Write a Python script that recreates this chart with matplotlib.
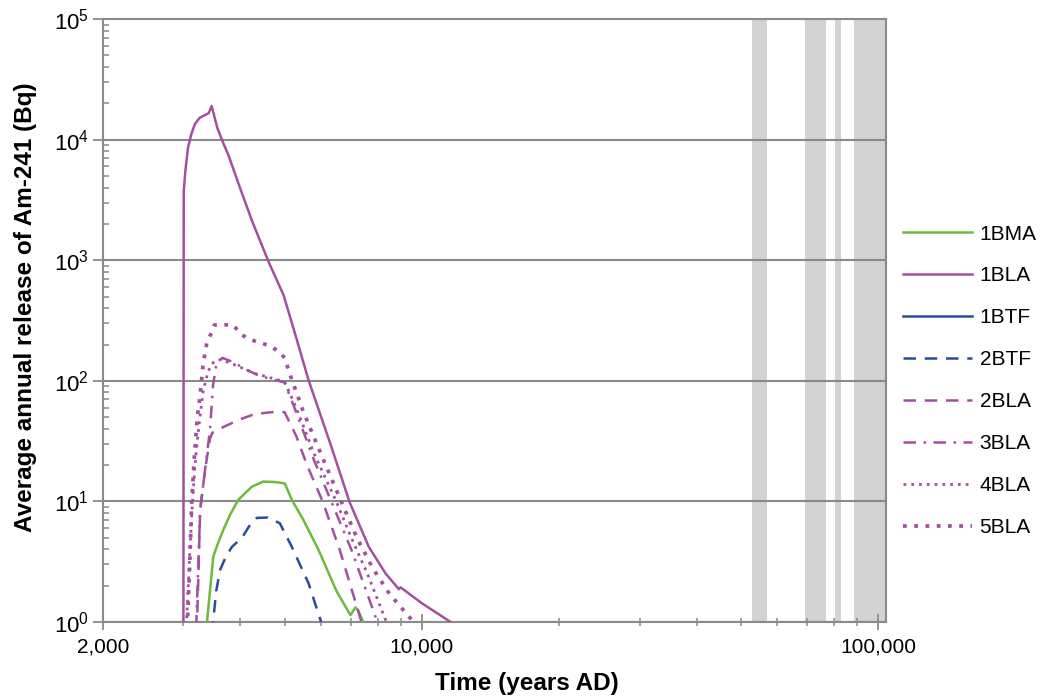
import numpy as np
import matplotlib
matplotlib.use("Agg")
import matplotlib.pyplot as plt
from matplotlib.ticker import FixedLocator, NullFormatter

plt.rcParams['font.family'] = ['Liberation Sans', 'DejaVu Sans']
plt.rcParams['mathtext.fontset'] = 'custom'
plt.rcParams['mathtext.rm'] = 'Liberation Sans'

# ── Data (years AD, Bq) ───────────────────────────────────────────────────
t_1bla = [3000, 3005, 3030, 3070, 3120, 3180, 3260, 3350, 3410, 3460, 3560,
          3671, 3765, 4000, 4236, 4611, 4974, 5150, 5320, 5644, 6300, 6939,
          7648, 8322, 8902, 8975, 10000, 11560]
v_1bla = [0.5, 3700, 5500, 8500, 11000, 13500, 15200, 16000, 16600, 19000,
          12500, 9300, 7450, 3900, 2150, 970, 514, 330, 218, 101, 30, 9.9,
          4.2, 2.53, 1.87, 1.94, 1.43, 1.0]

t_1bma = [3360, 3489, 3580, 3669, 3800, 3958, 4232, 4487, 4750, 5004, 5186,
          5500, 5936, 6500, 6970, 7150, 7250, 7520]
v_1bma = [0.8, 3.5, 4.6, 5.8, 7.8, 10.3, 13.2, 14.6, 14.5, 14.1, 10.3, 7.0,
          3.95, 1.8, 1.14, 1.32, 1.25, 0.9]

t_1btf = []
v_1btf = []

t_2btf = [3470, 3485, 3540, 3610, 3720, 3833, 4032, 4200, 4345, 4592, 4880,
          5186, 5644, 6038]
v_2btf = [0.8, 1.0, 1.8, 2.7, 3.5, 4.2, 5.0, 6.4, 7.3, 7.35, 6.6, 4.2, 2.09,
          0.95]

t_2bla = [3210, 3265, 3345, 3430, 3470, 3560, 3700, 4000, 4300, 4700, 5000,
          5300, 5600, 6058, 6600, 7370]
v_2bla = [0.8, 8.5, 18, 33, 37, 39, 42, 48, 53, 55, 55, 35, 20, 10, 4, 1.0]

t_3bla = [3200, 3265, 3345, 3430, 3485, 3540, 3650, 3855, 4100, 4400, 4700,
          5000, 5300, 5800, 6328, 7000, 7988]
v_3bla = [0.9, 8.5, 18, 39, 92, 135, 155, 143, 125, 110, 103, 97, 55, 22,
          10, 4, 1.0]

t_4bla = [3040, 3090, 3130, 3180, 3250, 3320, 3400, 3500, 3620, 3900, 4300,
          4700, 5000, 5300, 5800, 6490, 7000, 7600, 8358, 8700]
v_4bla = [0.8, 3, 8, 20, 45, 85, 120, 145, 150, 135, 115, 105, 98, 60, 25,
          10, 5, 2.5, 1.0, 0.8]

t_5bla = [3060, 3100, 3130, 3170, 3218, 3265, 3316, 3376, 3455, 3505, 3647,
          3855, 4030, 4200, 4640, 4860, 5000, 5150, 5500, 6000, 6654, 7200,
          7800, 8500, 9200, 9700]
v_5bla = [0.9, 3.3, 10.3, 23, 50, 76, 140, 205, 250, 290, 292, 290, 240,
          220, 195, 175, 155, 110, 55, 25, 10, 5, 2.8, 1.7, 1.2, 0.95]

# periodos sombreados
bandas = [(53000, 57000), (69000, 77000), (80500, 82800), (88500, 110000)]

# ── Estilos ────────────────────────────────────────────────────────────────
VERDE  = '#6cbb3c'
MORADO = '#a2519f'
AZUL   = '#2b4c9c'
GRIS   = '#8a8a8a'

series = [
    ('1BMA', t_1bma, v_1bma, VERDE,  '-',               1.8),
    ('1BLA', t_1bla, v_1bla, MORADO, '-',               1.8),
    ('1BTF', t_1btf, v_1btf, AZUL,   '-',               1.8),
    ('2BTF', t_2btf, v_2btf, AZUL,   (0, (5, 3.5)),     1.8),
    ('2BLA', t_2bla, v_2bla, MORADO, (0, (5, 3.5)),     1.8),
    ('3BLA', t_3bla, v_3bla, MORADO, (0, (5, 3, 1, 3)), 1.8),
    ('4BLA', t_4bla, v_4bla, MORADO, (0, (1, 1.8)),     2.0),
    ('5BLA', t_5bla, v_5bla, MORADO, (0, (1, 2.0)),     2.7),
]

fig = plt.figure(figsize=(10.41, 6.96), dpi=100)
ax = fig.add_axes([0.099, 0.1063, 0.752, 0.8664])

for a, b in bandas:
    ax.axvspan(a, b, color='#d3d3d3', lw=0, zorder=0)

for nombre, t, v, col, ls, lw in series:
    ax.plot(t, v, color=col, linestyle=ls, lw=lw, label=nombre, zorder=3)

ax.set_xscale('log')
ax.set_yscale('log')
ax.set_xlim(2000, 104000)
ax.set_ylim(1, 1e5)

ax.xaxis.set_major_locator(FixedLocator([2000, 10000, 100000]))
ax.set_xticklabels(['2,000', '10,000', '100,000'])
minx = [3000, 4000, 5000, 6000, 7000, 8000, 9000,
        20000, 30000, 40000, 50000, 60000, 70000, 80000, 90000]
ax.xaxis.set_minor_locator(FixedLocator(minx))
ax.xaxis.set_minor_formatter(NullFormatter())

ax.yaxis.set_major_locator(FixedLocator([1, 10, 100, 1000, 1e4, 1e5]))
ax.set_yticklabels([r'10$^{0}$', r'10$^{1}$', r'10$^{2}$', r'10$^{3}$',
                    r'10$^{4}$', r'10$^{5}$'])
miny = [m * 10**e for e in range(0, 5) for m in range(2, 10)]
ax.yaxis.set_minor_locator(FixedLocator(miny))
ax.yaxis.set_minor_formatter(NullFormatter())

ax.grid(axis='y', which='major', color=GRIS, lw=1.5, zorder=1)
ax.set_axisbelow(True)
for s in ax.spines.values():
    s.set_color(GRIS)
    s.set_linewidth(1.5)

ax.tick_params(axis='x', which='major', direction='inout', length=12,
               width=1.3, color=GRIS, labelsize=15, pad=5)
ax.tick_params(axis='x', which='minor', direction='inout', length=6,
               width=1.1, color=GRIS)
ax.tick_params(axis='y', which='major', direction='out', length=7,
               width=1.3, color=GRIS, labelsize=16, pad=3)
ax.tick_params(axis='y', which='minor', direction='in', length=4,
               width=1.1, color=GRIS)

ax.set_xlabel('Time (years AD)', fontsize=17.5, fontweight='bold', labelpad=11.5)
ax.set_ylabel('Average annual release of Am-241 (Bq)', fontsize=17.5,
              fontweight='bold', labelpad=12)
ax.xaxis.label.set_x(0.5415)
ax.yaxis.label.set_y(0.522)

ax.legend(loc='upper left', bbox_to_anchor=(1.011, 0.673), frameon=False,
          fontsize=15, handlelength=3.3, handletextpad=0.38, labelspacing=1.1,
          borderaxespad=0)

fig.savefig('out.png', dpi=100)
